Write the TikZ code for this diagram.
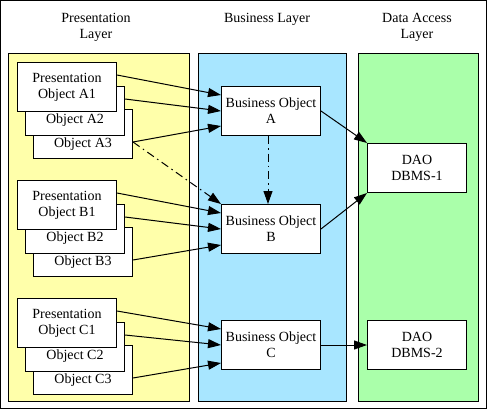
\documentclass[tikz,border=0pt]{standalone}
\usepackage{fontspec}
\setmainfont{Liberation Serif}
\usetikzlibrary{arrows.meta}
\definecolor{preyellow}{RGB}{255,255,170}
\definecolor{busblue}{RGB}{168,230,255}
\definecolor{daogreen}{RGB}{170,255,170}
\begin{document}
\begin{tikzpicture}[x=1pt,y=-1pt,font=\fontsize{14}{16}\selectfont, line width=1pt,
	>={Triangle[length=13pt,width=9pt]},
	objbox/.style={draw,fill=white,minimum width=99pt,minimum height=49pt,
		inner sep=0pt,anchor=north west,align=center},
	dashdot/.style={dash pattern=on 8pt off 4pt on 1.5pt off 4pt}]
	\useasboundingbox (0,0) rectangle (488,410);
	\draw (0.5,0.5) rectangle (486.5,408.5);
	% layers
	\draw[fill=preyellow] (8,53) rectangle (189,401);
	\draw[fill=busblue] (198,53) rectangle (346,401);
	\draw[fill=daogreen] (358,53) rectangle (478,401);
	\node[align=center] (tp) at (96,27) {Presentation\\Layer};
	\node (tb) at (267,19) {Business Layer};
	\node[align=center] (td) at (417,27) {Data Access\\Layer};
	% presentation objects
	\path (33,109)node[objbox](pa3){}
	++(-8,-23)node[objbox](pa2){}
	++(-8,-24)node[objbox](pa1){Presentation\\Object A1}
	;
	\path (33,227)node[objbox](pb3){}
	++(-8,-23)node[objbox](pb2){}
	++(-8,-24)node[objbox](pb1){Presentation\\Object B1}
	;
	\path (33,345)node[objbox](pc3){}
	++(-8,-23)node[objbox](pc2){}
	++(-8,-24)node[objbox](pc1){Presentation\\Object C1}
	;
	\node (ta2) at ([yshift=16pt]pa2.south) {Object A2};
	\node (ta3) at ([yshift=15pt]pa3.south) {Object A3};
	\node (tb2) at ([yshift=16pt]pb2.south) {Object B2};
	\node (tb3) at ([yshift=15pt]pb3.south) {Object B3};
	\node (tc2) at ([yshift=16pt]pc2.south) {Object C2};
	\node (tc3) at ([yshift=15pt]pc3.south) {Object C3};
	% business objects and DAOs
	\node[objbox] (ba) at (221,86) {Business Object\\A};
	\node[objbox] (bb) at (221,204) {Business Object\\B};
	\node[objbox] (bc) at (221,320) {Business Object\\C};
	\node[objbox] (da1) at (367,143) {DAO\\DBMS-1};
	\node[objbox] (da2) at (367,320) {DAO\\DBMS-2};
	% connectors
	\draw[->]([yshift=-13pt]pa1.north east)--([yshift=-9pt]ba.north west);
	\draw[->]([yshift=-13pt]pa2.north east)--([yshift=-25pt]ba.north west);
	\draw[->]([yshift=-33pt]pa3.north east)--([yshift=-40pt]ba.north west);
	\draw[->]([yshift=-13pt]pb1.north east)--([yshift=-9pt]bb.north west);
	\draw[->]([yshift=-13pt]pb2.north east)--([yshift=-25pt]bb.north west);
	\draw[->]([yshift=-33pt]pb3.north east)--([yshift=-41pt]bb.north west);
	\draw[->]([yshift=-13pt]pc1.north east)--([yshift=-9pt]bc.north west);
	\draw[->]([yshift=-13pt]pc2.north east)--([yshift=-25pt]bc.north west);
	\draw[->]([yshift=-33pt]pc3.north east)--([yshift=-43pt]bc.north west);
	\draw[->,dashdot]([yshift=-33pt]pa3.north east)--(bb.north west);
	\draw[->,dashdot]([xshift=-3pt]ba.south)--([xshift=-3pt]bb.north);
	\draw[->](ba.east)--(da1.north west);
	\draw[->](bb.east)--(da1.south west);
	\draw[->](bc.east)--(da2.west);
\end{tikzpicture}
\end{document}
